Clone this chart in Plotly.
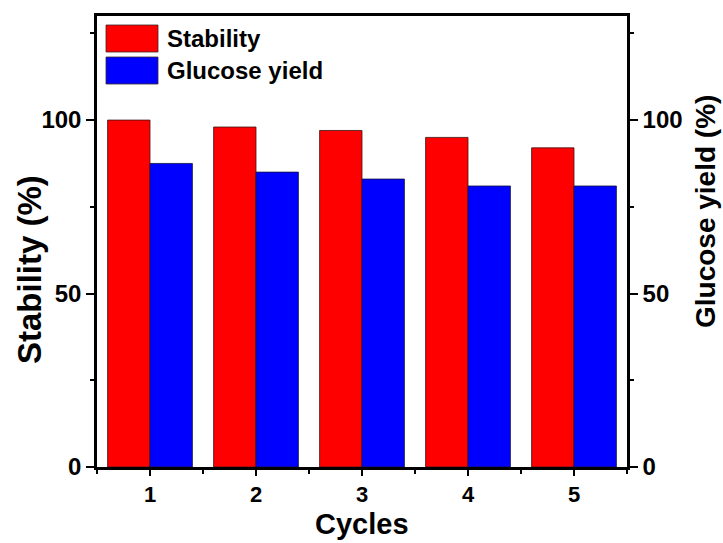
import plotly.graph_objects as go

cycles = [1, 2, 3, 4, 5]
stability = [100, 98, 97, 95, 92]
glucose_yield = [87.5, 85, 83, 81, 81]
series_names = ["Stability", "Glucose yield"]
series_colors = ["#ff0000", "#0000ff"]
x_title = "Cycles"
y_title = "Stability (%)"
y2_title = "Glucose yield (%)"

FONT = "Liberation Sans, Arial, sans-serif"
bw = 0.4

fig = go.Figure()
fig.add_trace(go.Bar(x=cycles, y=stability, name=series_names[0], width=bw, offset=-bw,
                     marker=dict(color=series_colors[0], line=dict(color="rgba(60,20,20,0.8)", width=1)),
                     yaxis="y", showlegend=False))
fig.add_trace(go.Bar(x=cycles, y=glucose_yield, name=series_names[1], width=bw, offset=0,
                     marker=dict(color=series_colors[1], line=dict(color="rgba(20,20,60,0.8)", width=1)),
                     yaxis="y2", showlegend=False))

tickfont = dict(family=FONT, size=24, color="black", weight="bold")
xtickfont = dict(family=FONT, size=22, color="black", weight="bold")

L, R, T, B = 97, 96, 16, 76
W, H = 723, 543

fig.update_layout(
    width=W, height=H,
    margin=dict(l=L, r=R, t=T, b=B, autoexpand=False),
    plot_bgcolor="white", paper_bgcolor="white",
    barmode="overlay",
    xaxis=dict(range=[0.5, 5.5], tickvals=cycles, ticks="outside", ticklen=6, tickwidth=2,
               tickcolor="black", showline=True, linewidth=2.5, linecolor="black", mirror=True,
               showgrid=False, zeroline=False, tickfont=xtickfont, automargin=False,
               minor=dict(tick0=0.5, dtick=0.5, ticks="outside", ticklen=4, tickwidth=2, tickcolor="black")),
    yaxis=dict(range=[0, 130], tickvals=[0, 50, 100], ticks="outside", ticklen=8, tickwidth=2,
               tickcolor="black", showline=True, linewidth=2.5, linecolor="black",
               showgrid=False, zeroline=False, tickfont=tickfont, automargin=False,
               minor=dict(tick0=0, dtick=25, ticks="outside", ticklen=4, tickwidth=2, tickcolor="black")),
    yaxis2=dict(range=[0, 130], tickvals=[0, 50, 100], overlaying="y", side="right",
                ticks="outside", ticklen=8, tickwidth=2, tickcolor="black",
                showline=True, linewidth=2.5, linecolor="black",
                showgrid=False, zeroline=False, tickfont=tickfont, automargin=False,
                minor=dict(tick0=0, dtick=25, ticks="outside", ticklen=4, tickwidth=2, tickcolor="black")),
)

pw = W - L - R
ph = H - T - B
def px2paper(x, y):
    return (x - L) / pw, (H - B - y) / ph

# Axis titles
tx, ty = px2paper(362, 542)
fig.add_annotation(xref="paper", yref="paper", x=tx, y=ty, text=x_title, showarrow=False,
                   xanchor="center", yanchor="bottom",
                   font=dict(family=FONT, size=29, color="black", weight="bold"))
tx, ty = px2paper(29, 270)
fig.add_annotation(xref="paper", yref="paper", x=tx, y=ty, text=y_title, showarrow=False,
                   textangle=-90, xanchor="center", yanchor="middle",
                   font=dict(family=FONT, size=33, color="black", weight="bold"))
tx, ty = px2paper(705, 212)
fig.add_annotation(xref="paper", yref="paper", x=tx, y=ty, text=y2_title, showarrow=False,
                   textangle=-90, xanchor="center", yanchor="middle",
                   font=dict(family=FONT, size=28, color="black", weight="bold"))

# Custom legend with large swatches
boxes = [(106, 25, 158, 52), (106, 57, 158, 84)]
for (x0, y0, x1, y1), name, col in zip(boxes, series_names, series_colors):
    px0, py0 = px2paper(x0, y1)
    px1, py1 = px2paper(x1, y0)
    fig.add_shape(type="rect", xref="paper", yref="paper", x0=px0, y0=py0, x1=px1, y1=py1,
                  fillcolor=col, line=dict(color="rgba(60,40,40,0.8)", width=1))
    tx, ty = px2paper(165, (y0 + y1) / 2)
    fig.add_annotation(xref="paper", yref="paper", x=tx, y=ty, text=name, showarrow=False,
                       xanchor="left", yanchor="middle",
                       font=dict(family=FONT, size=24, color="black", weight="bold"))

fig.write_html("out.html")
